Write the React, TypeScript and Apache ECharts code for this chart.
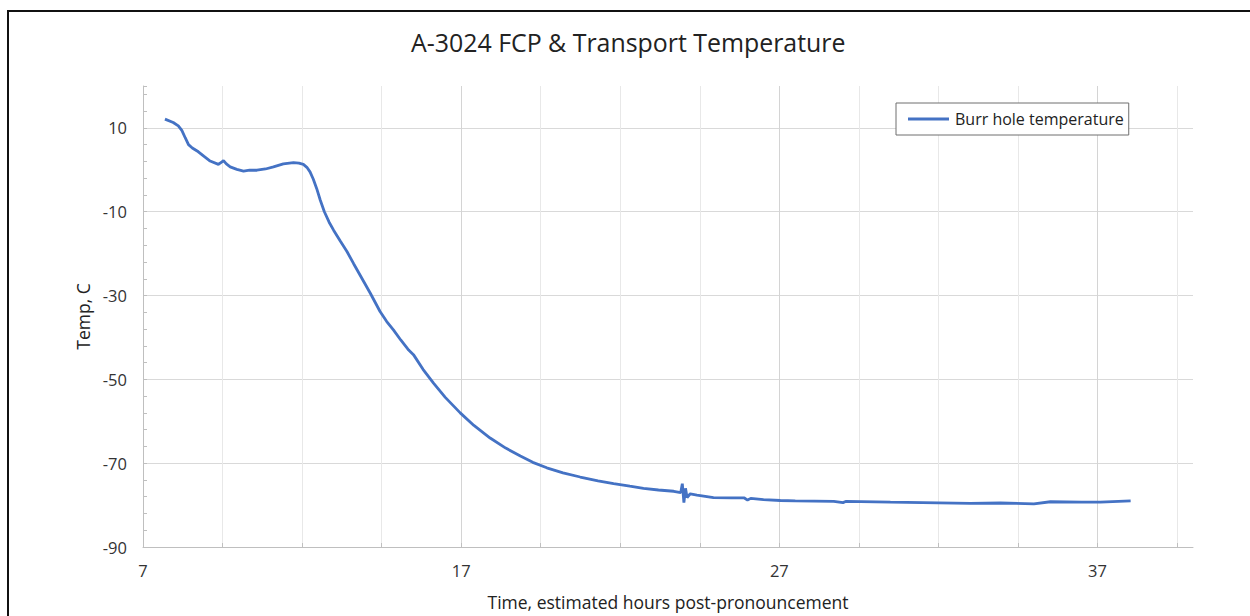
import { useEffect, useRef } from "react";
import * as echarts from "echarts";

// Time, estimated hours post-pronouncement
const hours = [
  7.69, 7.95, 8.11, 8.22, 8.33, 8.43, 8.55, 8.74, 8.92, 9.11, 9.37, 9.48, 9.53, 9.62,
  9.74, 9.95, 10.16, 10.35, 10.58, 10.85, 11.1, 11.41, 11.73, 11.9, 12.04, 12.15, 12.25,
  12.35, 12.46, 12.57, 12.7, 12.85, 12.99, 13.2, 13.41, 13.62, 13.82, 14.14, 14.45, 14.66,
  14.87, 15.1, 15.35, 15.5, 15.8, 16.13, 16.5, 16.97, 17.4, 17.91, 18.4, 18.86, 19.25,
  19.69, 20.2, 20.74, 21.3, 21.79, 22.3, 22.73, 23.2, 23.68, 23.9, 23.95, 24.0, 24.05,
  24.1, 24.2, 24.41, 24.93, 25.5, 25.9, 26.0, 26.1, 26.5, 27.03, 27.5, 28.71, 29.0, 29.1,
  30.49, 31.5, 33.0, 33.95, 35.0, 35.52, 36.5, 37.09, 38.04,
];
// Burr hole temperature, C
const temps = [
  12.1, 11.3, 10.5, 9.4, 7.6, 6.0, 5.2, 4.3, 3.2, 2.1, 1.3, 1.9, 2.2, 1.4,
  0.7, 0.1, -0.3, -0.1, -0.1, 0.2, 0.7, 1.4, 1.7, 1.6, 1.3, 0.6, -0.5,
  -2.2, -4.5, -7.2, -10.0, -12.5, -14.4, -17.0, -19.5, -22.4, -25.1, -29.4, -33.8, -36.2,
  -38.2, -40.6, -43.0, -44.1, -47.6, -50.9, -54.3, -58.0, -61.0, -64.0, -66.4, -68.3, -69.8,
  -71.1, -72.3, -73.3, -74.2, -74.9, -75.5, -76.0, -76.4, -76.7, -77.0, -74.9, -79.4, -76.0,
  -78.2, -77.3, -77.6, -78.2, -78.3, -78.3, -78.8, -78.4, -78.7, -78.9, -79.0, -79.1, -79.4, -79.1,
  -79.3, -79.4, -79.6, -79.5, -79.7, -79.2, -79.3, -79.3, -79.0,
];

const xLabelHours = [7, 17, 27, 37];
const yLabelTemps = [-90, -70, -50, -30, -10, 10];
const X_MIN = 7;
const X_MAX = 40;
const Y_MIN = -90;
const Y_MAX = 20;

const FONT = "'Open Sans', 'Noto Sans', sans-serif";

export default function App() {
  const ref = useRef<HTMLDivElement>(null);

  useEffect(() => {
    if (!ref.current) return;
    const chart = echarts.init(ref.current, undefined, { renderer: "svg" });
    // axes are offset so that ticks start at the axis minimum
    const data = hours.map((h, i) => [h - X_MIN, temps[i] - Y_MIN]);
    chart.setOption({
      animation: false,
      backgroundColor: "#ffffff",
      textStyle: { fontFamily: FONT },
      title: {
        text: "A-3024 FCP & Transport Temperature",
        left: 411,
        top: 29,
        padding: 0,
        textStyle: { fontFamily: FONT, fontSize: 24.9, fontWeight: "normal", color: "#222222" },
      },
      graphic: [
        {
          type: "rect",
          shape: { x: 8, y: 11, width: 1300, height: 700 },
          style: { fill: "none", stroke: "#111111", lineWidth: 2 },
          silent: true,
        },
      ],
      legend: {
        left: 896,
        top: 103,
        orient: "vertical",
        icon: "rect",
        backgroundColor: "#ffffff",
        borderColor: "#6e6e6e",
        borderWidth: 1,
        borderRadius: 0,
        padding: [8, 5, 8, 12],
        itemWidth: 41,
        itemHeight: 3,
        itemGap: 6,
        textStyle: { fontFamily: FONT, fontSize: 16, color: "#222222", padding: [0, 0, 0, 1] },
        data: ["Burr hole temperature"],
      },
      grid: { left: 143, top: 86, width: 1050, height: 461, containLabel: false },
      xAxis: {
        type: "value",
        min: 0,
        max: X_MAX - X_MIN,
        interval: 2.5,
        name: "Time, estimated hours post-pronouncement",
        nameLocation: "middle",
        nameGap: 46,
        nameTextStyle: { fontFamily: FONT, fontSize: 17.5, color: "#222222" },
        axisLine: { show: true, lineStyle: { color: "#bfbfbf", width: 1 } },
        axisTick: { show: true, inside: true, length: 4, lineStyle: { color: "#bfbfbf" } },
        axisLabel: {
          margin: 15,
          fontFamily: FONT,
          fontSize: 16.5,
          color: "#333333",
          showMaxLabel: false,
          formatter: (v: number) => {
            const h = Math.round((v + X_MIN) * 100) / 100;
            return xLabelHours.includes(h) ? String(h) : "";
          },
        },
        splitLine: {
          show: true,
          showMaxLine: false,
          lineStyle: { color: ["#d4d4d4", "#e8e8e8", "#e8e8e8", "#e8e8e8"], width: 1 },
        },
      },
      yAxis: {
        type: "value",
        min: 0,
        max: Y_MAX - Y_MIN,
        interval: 20,
        name: "Temp, C",
        nameLocation: "middle",
        nameGap: 48,
        nameRotate: 90,
        nameTextStyle: { fontFamily: FONT, fontSize: 17.5, color: "#222222" },
        axisLine: { show: true, lineStyle: { color: "#bfbfbf", width: 1 } },
        axisTick: { show: true, inside: true, length: 4, lineStyle: { color: "#bfbfbf" } },
        minorTick: { show: true, splitNumber: 5, length: 4, lineStyle: { color: "#bfbfbf" } },
        axisLabel: {
          margin: 16,
          fontFamily: FONT,
          fontSize: 16.5,
          color: "#333333",
          formatter: (v: number) => {
            const t = Math.round(v + Y_MIN);
            return yLabelTemps.includes(t) ? String(t) : "";
          },
        },
        splitLine: {
          show: true,
          showMaxLine: false,
          lineStyle: { color: "#d9d9d9", width: 1 },
        },
      },
      series: [
        {
          name: "Burr hole temperature",
          type: "line",
          data,
          symbol: "none",
          smooth: false,
          lineStyle: { color: "#4472C4", width: 2.8 },
          itemStyle: { color: "#4472C4" },
        },
      ],
    });
    return () => chart.dispose();
  }, []);

  return (
    <div
      ref={ref}
      style={{ position: "absolute", left: 0, top: 0, width: 1250, height: 616, background: "#fff" }}
    />
  );
}
